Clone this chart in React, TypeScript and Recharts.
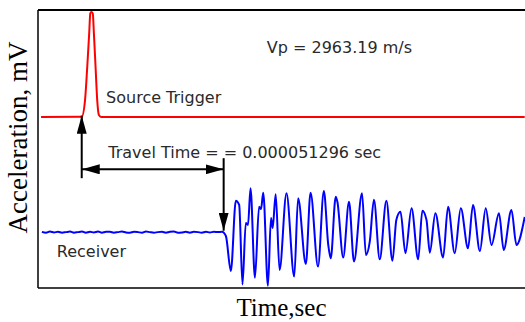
import { LineChart, Line, XAxis, YAxis, ReferenceLine, ReferenceDot, Label } from 'recharts'

// time in microseconds, amplitude in mV (two traces drawn with an offset)
const TRAVEL_TIME_US = 51.296
const VP_MS = 2963.19
const triggerTime = 15.8
const arrivalTime = triggerTime + TRAVEL_TIME_US

const sourceTime = [1.1, 15.8, 17.0, 17.8, 18.5, 18.9, 19.3, 19.8, 20.2, 20.8, 21.4, 22.0, 22.8, 175.9]
const sourceMv = [61.5, 61.6, 67.6, 79.6, 91.6, 98.8, 99.3, 98.8, 91.6, 79.6, 67.6, 62.2, 61.5, 61.5]

// receiver before first arrival (noise)
const noiseTime = [
  1.4, 2.9, 4.3, 5.8, 7.2, 8.7, 10.1, 11.6, 13.0, 14.4, 15.9, 17.3, 18.8, 20.2, 21.7, 23.1,
  24.6, 26.0, 27.4, 28.9, 30.3, 31.8, 33.2, 34.7, 36.1, 37.6, 39.0, 40.4, 41.9, 43.3, 44.8,
  46.2, 47.7, 49.1, 50.6, 52.0, 53.4, 54.9, 56.3, 57.8, 59.2, 60.7, 62.1, 63.6, 65.0, 66.5,
]
const noiseMv = [
  20.2, 19.9, 20.3, 20.0, 20.2, 19.9, 20.1, 20.3, 19.9, 20.1, 20.3, 19.9, 20.2, 20.0, 20.3, 19.9,
  20.2, 20.2, 19.9, 20.1, 20.3, 20.0, 19.9, 20.2, 20.1, 19.9, 20.3, 20.1, 19.9, 20.1, 20.2,
  19.9, 20.2, 20.3, 19.9, 20.0, 20.2, 19.9, 20.2, 20.1, 19.9, 20.2, 20.0, 20.2, 20.1, 20.2,
]

// receiver wave after arrival
const waveTime = [
  67.9, 69.7, 71.5, 72.7, 73.9, 75.1, 75.9, 76.8, 78.4, 79.9, 80.6, 81.4, 83.1, 84.2, 84.8,
  85.9, 87.3, 89.8, 92.6, 94.0, 96.8, 98.5, 101.2, 103.3, 104.9, 105.8, 107.6, 108.2, 110.3,
  112.4, 114.2, 117.1, 118.5, 119.9, 121.4, 123.5, 125.9, 128.1, 129.5, 131.0, 132.8, 135.0,
  137.4, 138.9, 140.4, 141.6, 143.6, 146.4, 148.2, 150.6, 152.8, 155.4, 157.2, 159.7, 161.8,
  163.9, 166.6, 168.3, 171.1, 172.9, 175.9,
]
const waveMv = [
  18.7, 6.1, 31.4, 29.9, 1.3, 23.4, 22.7, 35.9, 3.7, 29.2, 28.4, 34.3, 0.8, 25.2, 21.6,
  33.7, 6.5, 34.1, 4.1, 32.3, 8.6, 34.3, 7.7, 34.9, 15.5, 10.7, 32.8, 31.0, 11.0,
  31.0, 9.5, 34.1, 11.9, 16.7, 31.7, 10.3, 31.4, 9.8, 24.5, 27.4, 12.5, 28.7,
  10.3, 27.8, 24.5, 12.7, 26.9, 11.0, 29.2, 12.5, 28.7, 14.3, 29.9, 13.3, 28.7,
  15.5, 26.9, 13.7, 28.1, 15.5, 25.6,
]

const sourceData = sourceTime.map((t, i) => ({ t, v: sourceMv[i] }))
const receiverData = [
  ...noiseTime.map((t, i) => ({ t, v: noiseMv[i] })),
  ...waveTime.map((t, i) => ({ t, v: waveMv[i] })),
]

const textFont = '"DejaVu Sans", sans-serif'
const serifFont = '"Liberation Serif", "Times New Roman", serif'

// text placed with its start at the dot, on the baseline
const note = (text: string) => (props: any) => {
  const { x, y } = props.viewBox
  return (
    <text x={x} y={y} fill="#2a2a2a" fontSize={16} fontFamily={textFont}>
      {text}
    </text>
  )
}

export default function App() {
  return (
    <div style={{ position: 'absolute', left: 0, top: 0, width: 525, height: 322, background: '#fff', overflow: 'hidden' }}>
      <svg width={0} height={0} style={{ position: 'absolute' }}>
        <defs>
          <marker
            id="arrowHead"
            viewBox="0 0 18 10"
            refX={18}
            refY={5}
            markerWidth={18}
            markerHeight={10}
            markerUnits="userSpaceOnUse"
            orient="auto-start-reverse"
          >
            <path d="M0,0 L18,5 L0,10 z" fill="#000" />
          </marker>
        </defs>
      </svg>
      <LineChart width={525} height={322} margin={{ top: 10, right: 0, left: 0, bottom: 0 }}>
        <XAxis
          dataKey="t"
          type="number"
          domain={[0, 176]}
          allowDataOverflow
          tick={false}
          tickLine={false}
          height={34}
          axisLine={{ stroke: '#000', strokeWidth: 1.5 }}
        >
          <Label
            content={(props: any) => {
              const vb = props.viewBox
              return (
                <text x={vb.x + vb.width / 2} y={vb.y + 28} textAnchor="middle" fontSize={25} fontFamily={serifFont} fill="#000">
                  Time,sec
                </text>
              )
            }}
          />
        </XAxis>
        <YAxis
          type="number"
          domain={[0, 100]}
          allowDataOverflow
          tick={false}
          tickLine={false}
          width={38}
          axisLine={{ stroke: '#000', strokeWidth: 1.5 }}
        >
          <Label
            content={(props: any) => {
              const vb = props.viewBox
              const cx = vb.x + 26.5
              const cy = vb.y + 127.5
              return (
                <text x={cx} y={cy} transform={`rotate(-90, ${cx}, ${cy})`} textAnchor="middle" fontSize={27} fontFamily={serifFont} fill="#000">
                  Acceleration, mV
                </text>
              )
            }}
          />
        </YAxis>
        <ReferenceLine y={100} stroke="#000" strokeWidth={2} />

        <Line data={sourceData} dataKey="v" type="monotone" stroke="#ff0000" strokeWidth={2} dot={false} isAnimationActive={false} />
        <Line data={receiverData} dataKey="v" type="monotone" stroke="#0000ff" strokeWidth={2} dot={false} isAnimationActive={false} />

        <ReferenceLine
          segment={[{ x: triggerTime, y: 39.5 }, { x: triggerTime, y: 62 }]}
          stroke="#000"
          strokeWidth={2}
          markerEnd="url(#arrowHead)"
        />
        <ReferenceLine
          segment={[{ x: triggerTime, y: 42.7 }, { x: arrivalTime, y: 42.7 }]}
          stroke="#000"
          strokeWidth={2}
          markerStart="url(#arrowHead)"
          markerEnd="url(#arrowHead)"
        />
        <ReferenceLine
          segment={[{ x: arrivalTime, y: 46.7 }, { x: arrivalTime, y: 20.6 }]}
          stroke="#000"
          strokeWidth={2}
          markerEnd="url(#arrowHead)"
        />

        <ReferenceDot x={82.7} y={84.5} r={0} fill="none" stroke="none" label={{ content: note(`Vp = ${VP_MS} m/s`) }} />
        <ReferenceDot x={24.6} y={66.5} r={0} fill="none" stroke="none" label={{ content: note('Source Trigger') }} />
        <ReferenceDot x={25.4} y={46.7} r={0} fill="none" stroke="none" label={{ content: note(`Travel Time = = 0.0000${TRAVEL_TIME_US * 1000} sec`) }} />
        <ReferenceDot x={6.8} y={11.0} r={0} fill="none" stroke="none" label={{ content: note('Receiver') }} />
      </LineChart>
    </div>
  )
}
